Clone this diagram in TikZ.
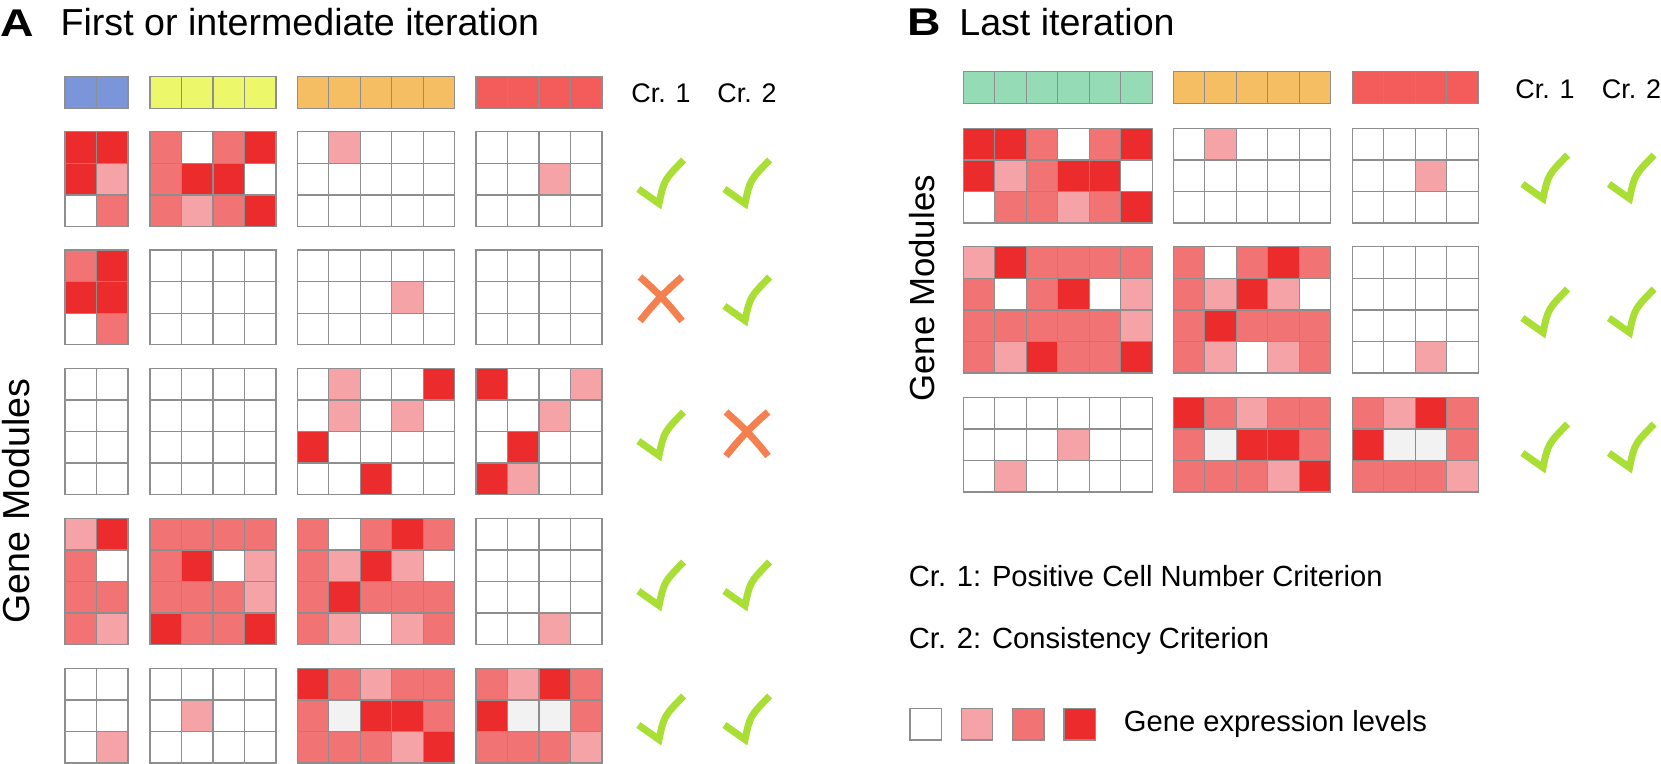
\documentclass[tikz,border=0pt]{standalone}
\usepackage{fontspec}
\setmainfont{Liberation Sans}

\definecolor{gridgray}{HTML}{8E8E8E}
\definecolor{hdblue}{HTML}{7B95DA}
\definecolor{hdyellow}{HTML}{ECF76A}
\definecolor{hdorange}{HTML}{F6BE62}
\definecolor{hdred}{HTML}{F45B5B}
\definecolor{hdgreen}{HTML}{95DBB5}
\definecolor{lvw}{HTML}{FFFFFF}
\definecolor{lvl}{HTML}{F5A3A6}
\definecolor{lvm}{HTML}{F17374}
\definecolor{lvs}{HTML}{EC2B2D}
\definecolor{lvg}{HTML}{F2F2F2}
\definecolor{okgreen}{HTML}{A9DE35}
\definecolor{nored}{HTML}{F5804F}

\tikzset{
    cell/.style={draw=gridgray, line width=0.75pt},
    okline/.style={draw=okgreen, line width=4pt, line cap=butt, line join=miter},
    noline/.style={draw=nored, line width=4pt, line cap=butt},
    panelletter/.style={font=\fontsize{22}{26}\selectfont\bfseries, inner sep=0, anchor=base west},
    paneltitle/.style={font=\fontsize{21.4}{25}\selectfont, inner sep=0, anchor=base west},
    axislabel/.style={font=\fontsize{19.8}{23}\selectfont, inner sep=0, rotate=90},
    crlabel/.style={font=\fontsize{15.3}{18}\selectfont, inner sep=0, anchor=base},
    legendtext/.style={font=\fontsize{16.6}{20}\selectfont, inner sep=0, anchor=base west}
}

% one module block: x, y of the top left corner, rows of levels
\newcommand{\heatblock}[3]{
    \foreach \row [count=\ri] in {#3}
        {
            \foreach \v [count=\ci] in \row
                \draw[cell, fill=lv\v] ({#1+(\ci-1)*31.5}, {#2+(\ri-1)*31.6}) rectangle +(31.5, 31.6);
        }
}
% header strip: x, y, number of cells, colour
\newcommand{\hdblock}[4]{
    \foreach \ci in {1,...,#3}
        \draw[cell, fill=#4] ({#1+(\ci-1)*31.5}, #2) rectangle +(31.5, 31.6);
}
\newcommand{\okmark}[2]{
    \draw[okline] ({#1-22.6}, {#2+7}) -- ({#1-2}, {#2+21.5}) .. controls ({#1+3}, {#2-2}) .. ({#1+22.6}, {#2-22});
}
\newcommand{\nomark}[2]{
    \draw[noline] ({#1-21}, {#2-22}) to[bend left=5] ({#1+21}, {#2+22});
    \draw[noline] ({#1+21}, {#2-22}) to[bend right=5] ({#1-21}, {#2+22});
}

\begin{document}
\begin{tikzpicture}[x=0.02cm, y=-0.02cm]
    \useasboundingbox (0,0) rectangle (1661,764);

    % panel A
    \node[name=letterA, panelletter] at (0, 36) {\scalebox{1.2}[1]{A}};
    \node[name=titleA, paneltitle] at (60.3, 35.7) {First or intermediate iteration};
    \node[name=genesA, axislabel, font=\fontsize{21.4}{25}\selectfont] at (16.5, 501) {Gene Modules};
    \node[name=crA1, crlabel] at (661, 102.5) {Cr. 1};
    \node[name=crA2, crlabel] at (747, 102.5) {Cr. 2};

    \hdblock{65}{76.7}{2}{hdblue}
    \hdblock{150}{76.7}{4}{hdyellow}
    \hdblock{297.3}{76.7}{5}{hdorange}
    \hdblock{476}{76.7}{4}{hdred}

    \heatblock{65}{131.7}{{s,s},{s,l},{w,m}}
    \heatblock{150}{131.7}{{m,w,m,s},{m,s,s,w},{m,l,m,s}}
    \heatblock{297.3}{131.7}{{w,l,w,w,w},{w,w,w,w,w},{w,w,w,w,w}}
    \heatblock{476}{131.7}{{w,w,w,w},{w,w,l,w},{w,w,w,w}}
    \okmark{661}{182}
    \okmark{747}{182}

    \heatblock{65}{250}{{m,s},{s,s},{w,m}}
    \heatblock{150}{250}{{w,w,w,w},{w,w,w,w},{w,w,w,w}}
    \heatblock{297.3}{250}{{w,w,w,w,w},{w,w,w,l,w},{w,w,w,w,w}}
    \heatblock{476}{250}{{w,w,w,w},{w,w,w,w},{w,w,w,w}}
    \nomark{661}{299}
    \okmark{747}{299}

    \heatblock{65}{368.3}{{w,w},{w,w},{w,w},{w,w}}
    \heatblock{150}{368.3}{{w,w,w,w},{w,w,w,w},{w,w,w,w},{w,w,w,w}}
    \heatblock{297.3}{368.3}{{w,l,w,w,s},{w,l,w,l,w},{s,w,w,w,w},{w,w,s,w,w}}
    \heatblock{476}{368.3}{{s,w,w,l},{w,w,l,w},{w,s,w,w},{s,l,w,w}}
    \okmark{661}{434}
    \nomark{747}{434}

    \heatblock{65}{518.3}{{l,s},{m,w},{m,m},{m,l}}
    \heatblock{150}{518.3}{{m,m,m,m},{m,s,w,l},{m,m,m,l},{s,m,m,s}}
    \heatblock{297.3}{518.3}{{m,w,m,s,m},{m,l,s,l,w},{m,s,m,m,m},{m,l,w,l,m}}
    \heatblock{476}{518.3}{{w,w,w,w},{w,w,w,w},{w,w,w,w},{w,w,l,w}}
    \okmark{661}{584}
    \okmark{747}{584}

    \heatblock{65}{668.3}{{w,w},{w,w},{w,l}}
    \heatblock{150}{668.3}{{w,w,w,w},{w,l,w,w},{w,w,w,w}}
    \heatblock{297.3}{668.3}{{s,m,l,m,m},{m,g,s,s,m},{m,m,m,l,s}}
    \heatblock{476}{668.3}{{m,l,s,m},{s,g,g,m},{m,m,m,l}}
    \okmark{661}{718}
    \okmark{747}{718}

    % panel B
    \node[name=letterB, panelletter] at (907, 35) {\scalebox{1.2}[1]{B}};
    \node[name=titleB, paneltitle] at (959, 35) {Last iteration};
    \node[name=genesB, axislabel] at (922.5, 288.3) {Gene Modules};
    \node[name=crB1, crlabel] at (1545, 98.8) {Cr. 1};
    \node[name=crB2, crlabel] at (1631.5, 98.8) {Cr. 2};

    \hdblock{963.3}{71.7}{6}{hdgreen}
    \hdblock{1173.3}{71.7}{5}{hdorange}
    \hdblock{1352.3}{71.7}{4}{hdred}

    \heatblock{963.3}{128.3}{{s,s,m,w,m,s},{s,l,m,s,s,w},{w,m,m,l,m,s}}
    \heatblock{1173.3}{128.3}{{w,l,w,w,w},{w,w,w,w,w},{w,w,w,w,w}}
    \heatblock{1352.3}{128.3}{{w,w,w,w},{w,w,l,w},{w,w,w,w}}
    \okmark{1545}{177}
    \okmark{1631.5}{177}

    \heatblock{963.3}{246.7}{{l,s,m,m,m,m},{m,w,m,s,w,l},{m,m,m,m,m,l},{m,l,s,m,m,s}}
    \heatblock{1173.3}{246.7}{{m,w,m,s,m},{m,l,s,l,w},{m,s,m,m,m},{m,l,w,l,m}}
    \heatblock{1352.3}{246.7}{{w,w,w,w},{w,w,w,w},{w,w,w,w},{w,w,l,w}}
    \okmark{1545}{311}
    \okmark{1631.5}{311}

    \heatblock{963.3}{397.3}{{w,w,w,w,w,w},{w,w,w,l,w,w},{w,l,w,w,w,w}}
    \heatblock{1173.3}{397.3}{{s,m,l,m,m},{m,g,s,s,m},{m,m,m,l,s}}
    \heatblock{1352.3}{397.3}{{m,l,s,m},{s,g,g,m},{m,m,m,l}}
    \okmark{1545}{446}
    \okmark{1631.5}{446}

    % legend
    \node[name=crtext1, legendtext] at (908.5, 586.5) {Cr. 1: Positive Cell Number Criterion};
    \node[name=crtext2, legendtext] at (908.5, 648) {Cr. 2: Consistency Criterion};
    \foreach \v [count=\i] in {w,l,m,s}
        \draw[cell, fill=lv\v] ({910+(\i-1)*51.3}, 708.5) rectangle +(31.5, 31.5);
    \node[name=levels, legendtext] at (1123.6, 731) {Gene expression levels};
\end{tikzpicture}
\end{document}
